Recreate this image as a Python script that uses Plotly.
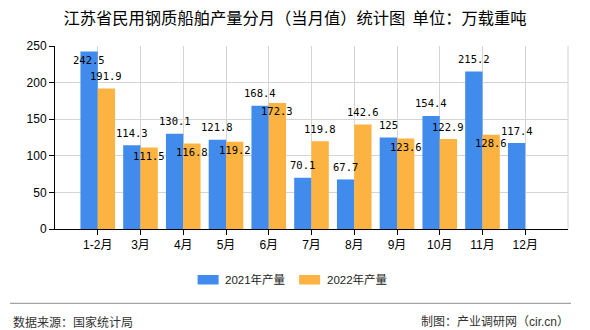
import plotly.graph_objects as go

categories = ["1-2月", "3月", "4月", "5月", "6月", "7月", "8月", "9月", "10月", "11月", "12月"]
values_2021 = [242.5, 114.3, 130.1, 121.8, 168.4, 70.1, 67.7, 125, 154.4, 215.2, 117.4]
values_2022 = [191.9, 111.5, 116.8, 119.2, 172.3, 119.8, 142.6, 123.6, 122.9, 128.6, None]
series_names = ["2021年产量", "2022年产量"]
y_ticks = [0, 50, 100, 150, 200, 250]

# label placement (style): True = above bar top, False = just below bar top
place_2021 = [False, True, True, True, True, True, True, True, True, True, True]
place_2022 = [True, False, False, False, False, True, True, False, True, False, True]

BLUE = "#418bec"
ORANGE = "#fdb342"
W, H = 590, 330
L, R, T, B = 55, 22, 46, 101
PW, PH = W - L - R, H - T - B

def px(x):
    return (x - L) / PW

def py(y):
    return (H - B - y) / PH

CJK = "Liberation Sans, Noto Sans CJK SC, sans-serif"

fig = go.Figure()
fig.add_trace(go.Bar(x=categories, y=values_2021, name=series_names[0], marker_color=BLUE,
                     marker_line_width=0))
fig.add_trace(go.Bar(x=categories, y=values_2022, name=series_names[1], marker_color=ORANGE,
                     marker_line_width=0))

bargap = 0.19
cat_px = PW / 12.0
half = cat_px * (1 - bargap) / 4

annotations = []
for vals, places, sgn in ((values_2021, place_2021, -1), (values_2022, place_2022, 1)):
    for c, v, above in zip(categories, vals, places):
        if v is None:
            continue
        annotations.append(dict(
            x=c, y=v, xref="x", yref="y", text=f"{v:g}", showarrow=False,
            xshift=sgn * half, yshift=12.5 if above else -8.5,
            xanchor="center", yanchor="middle",
            font=dict(family="DejaVu Sans Mono, monospace", size=10.5, color="#000000")))

# manual legend
shapes = []
for i, (name, col) in enumerate(zip(series_names, (BLUE, ORANGE))):
    x0 = 197.6 + i * 101.5
    shapes.append(dict(type="rect", xref="paper", yref="paper", x0=px(x0), x1=px(x0 + 21),
                       y0=py(284.5), y1=py(275), fillcolor=col, line=dict(width=0)))
    annotations.append(dict(x=px(x0 + 25.5), y=py(279.5), xref="paper", yref="paper", text=name,
                            showarrow=False, xanchor="left", yanchor="middle",
                            font=dict(family=CJK, size=11.5, color="#222222")))

# right border line
shapes.append(dict(type="line", xref="paper", yref="paper", x0=1, x1=1, y0=0, y1=1,
                   line=dict(color="#d4d4d4", width=1)))
# separator line
shapes.append(dict(type="line", xref="paper", yref="paper", x0=px(10), x1=px(571),
                   y0=py(303.3), y1=py(303.3), line=dict(color="#8c8c8c", width=1)))

annotations.append(dict(x=px(11), y=py(322), xref="paper", yref="paper", text="数据来源：国家统计局",
                        showarrow=False, xanchor="left", yanchor="middle",
                        font=dict(family=CJK, size=12, color="#333333")))
annotations.append(dict(x=px(571), y=py(322), xref="paper", yref="paper", text="制图：产业调研网（cir.cn）",
                        showarrow=False, xanchor="right", yanchor="middle",
                        font=dict(family=CJK, size=12, color="#333333")))

fig.update_layout(
    width=W, height=H,
    margin=dict(l=L, r=R, t=T, b=B, pad=0),
    paper_bgcolor="white", plot_bgcolor="white",
    barmode="group", bargap=bargap, bargroupgap=0,
    showlegend=False,
    title=dict(text="江苏省民用钢质船舶产量分月（当月值）统计图  单位：万载重吨",
               xref="container", yref="container", x=0.5, y=1 - 18.5 / H,
               xanchor="center", yanchor="middle",
               font=dict(family="Noto Sans CJK SC, sans-serif", size=16.3, color="#000000")),
    xaxis=dict(type="category", range=[-1, 11], showgrid=True, gridcolor="#d4d4d4", gridwidth=1,
               showline=True, linecolor="#000000", linewidth=1,
               ticks="outside", ticklen=5, tickcolor="#000000",
               tickfont=dict(family=CJK, size=12, color="#000000"), zeroline=False),
    yaxis=dict(range=[0, 250], tickvals=y_ticks, showgrid=True, gridcolor="#d4d4d4", gridwidth=1,
               showline=True, linecolor="#000000", linewidth=1,
               ticks="outside", ticklen=5, tickcolor="#000000",
               tickfont=dict(family=CJK, size=12, color="#000000"), zeroline=False),
    annotations=annotations, shapes=shapes,
)

fig.write_html("out.html")
